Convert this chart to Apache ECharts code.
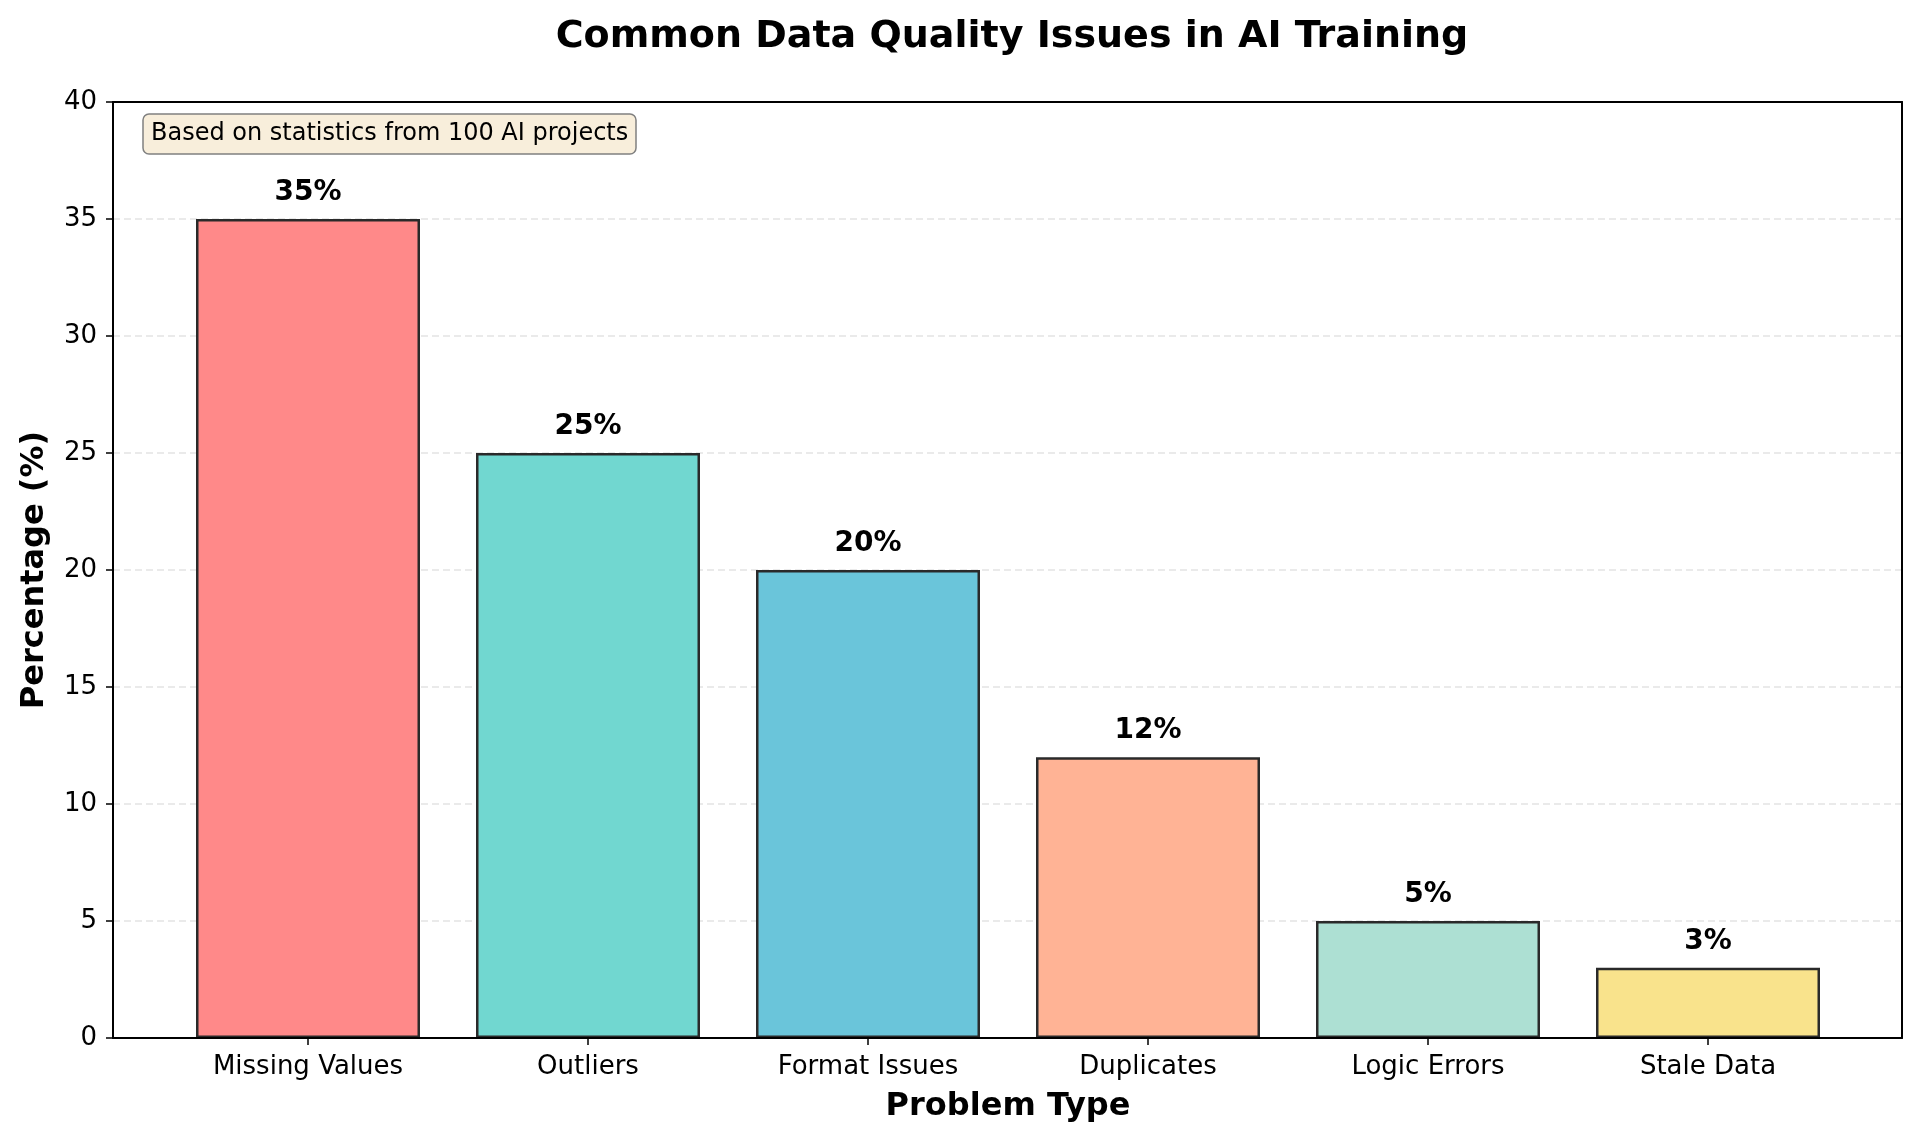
<!DOCTYPE html>
<html>
<head>
<meta charset="utf-8">
<script src="https://cdn.jsdelivr.net/npm/echarts@6/dist/echarts.min.js"></script>
<style>
  html, body { margin: 0; padding: 0; background: #fff; }
  #chart { width: 1920px; height: 1144px; }
</style>
</head>
<body>
<div id="chart"></div>
<script>
// categories and values
const categories = ['Missing Values', 'Outliers', 'Format Issues', 'Duplicates', 'Logic Errors', 'Stale Data'];
const percentages = [35, 25, 20, 12, 5, 3];
const barColors = ['#FF8989', '#71D7D0', '#6AC5DA', '#FFB395', '#ADE0D3', '#F9E38C'];
const yTicks = { min: 0, max: 40, step: 5 };

const FONT = 'DejaVu Sans';

// axis used only to draw one side of the black frame
function frameAxis(position, extra) {
  return Object.assign({
    gridIndex: 0,
    type: 'value',
    position: position,
    min: 0,
    max: 1,
    z: 5,
    axisLine: { show: true, onZero: false, lineStyle: { color: '#000', width: 2 } },
    axisTick: { show: false },
    axisLabel: { show: false },
    splitLine: { show: false }
  }, extra || {});
}

let chart = echarts.init(document.getElementById('chart'));
let option = {
  backgroundColor: '#ffffff',
  textStyle: { fontFamily: FONT },
  title: [
    {
      text: 'Common Data Quality Issues in AI Training',
      left: 1007,
      top: 13,
      textAlign: 'center',
      textStyle: { fontFamily: FONT, fontSize: 38, fontWeight: 'bold', color: '#000' }
    },
    {
      // note box, top left of the plot
      text: 'Based on statistics from 100 AI projects',
      left: 143,
      top: 114,
      padding: [8, 8, 8, 8],
      backgroundColor: '#F8EEDB',
      borderColor: '#808080',
      borderWidth: 1.5,
      borderRadius: 6,
      textStyle: { fontFamily: FONT, fontSize: 24, fontWeight: 'normal', color: '#000' }
    }
  ],
  grid: [
    // frame + y axis (full plot area)
    { left: 113, right: 18, top: 102, bottom: 106 },
    // bars (matplotlib margins leave less room at the sides)
    { left: 168, right: 72, top: 102, bottom: 106 }
  ],
  xAxis: [
    frameAxis('bottom'),
    frameAxis('top'),
    {
      gridIndex: 1,
      type: 'category',
      data: categories,
      axisLine: { show: false },
      axisTick: { show: true, alignWithLabel: true, length: 7, lineStyle: { color: '#000', width: 1.5 } },
      axisLabel: { fontFamily: FONT, fontSize: 26, color: '#000', margin: 16 },
      name: 'Problem Type',
      nameLocation: 'middle',
      nameGap: 53,
      nameTextStyle: { fontFamily: FONT, fontSize: 32, fontWeight: 'bold', color: '#000' }
    }
  ],
  yAxis: [
    {
      gridIndex: 0,
      type: 'value',
      min: yTicks.min,
      max: yTicks.max,
      interval: yTicks.step,
      z: 0,
      axisLine: { show: true, lineStyle: { color: '#000', width: 2 } },
      axisTick: { show: true, length: 7, lineStyle: { color: '#000', width: 1.5 } },
      axisLabel: { fontFamily: FONT, fontSize: 26, color: '#000', margin: 16 },
      splitLine: { show: true, lineStyle: { color: '#e4e4e4', width: 1.5, type: [7, 4] } },
      name: 'Percentage (%)',
      nameLocation: 'middle',
      nameGap: 62,
      nameTextStyle: { fontFamily: FONT, fontSize: 32, fontWeight: 'bold', color: '#000' }
    },
    frameAxis('right'),
    { gridIndex: 1, type: 'value', min: yTicks.min, max: yTicks.max, show: false }
  ],
  series: [
    {
      type: 'bar',
      xAxisIndex: 2,
      yAxisIndex: 2,
      barWidth: '80%',
      data: percentages.map((v, i) => ({
        value: v,
        itemStyle: { color: barColors[i] }
      })),
      itemStyle: { borderColor: '#2a2a2a', borderWidth: 2.5 },
      label: {
        show: true,
        position: 'top',
        distance: 12,
        formatter: '{c}%',
        fontFamily: FONT,
        fontSize: 28,
        fontWeight: 'bold',
        color: '#000'
      }
    }
  ]
};
chart.setOption(option);
</script>
</body>
</html>
